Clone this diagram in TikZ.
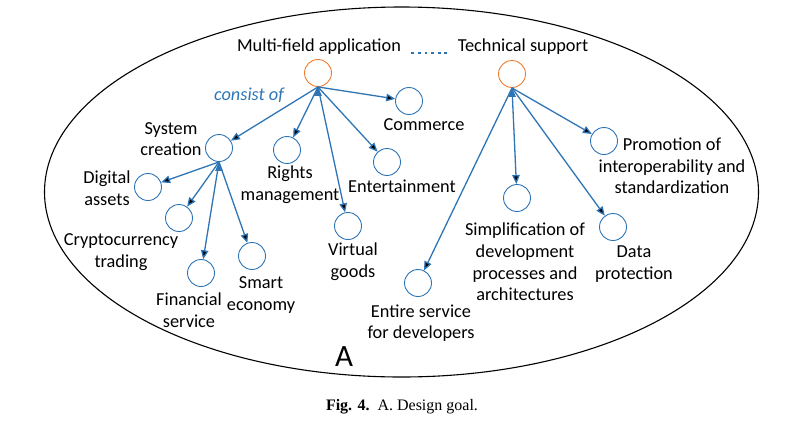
\documentclass[tikz,border=0pt]{standalone}
\usepackage{fontspec}
\setsansfont{Carlito}
\newfontfamily\capfont{Liberation Serif}
\usepackage{tikz}
\usetikzlibrary{arrows.meta}
\definecolor{lineblue}{RGB}{46,117,182}
\definecolor{ringorange}{RGB}{237,125,49}

\begin{document}
\begin{tikzpicture}[x=1pt,y=-1pt,>={Triangle[length=9pt,width=7.5pt]},thick]
      \tikzstyle{line} = [draw=lineblue, line width=1.3pt, ->]
      \tikzstyle{goal} = [circle, draw=lineblue, line width=0.9pt, minimum size=27pt, inner sep=0pt]
      \tikzstyle{root} = [goal, draw=ringorange]
      \tikzstyle{txt} = [font=\sffamily\fontsize{18.3}{21.7}\selectfont, align=center, inner sep=0pt]
      \useasboundingbox (0,0) rectangle (808,426);
      %frame
      \draw[black, line width=1.1pt] (401.5,192) ellipse [x radius=357, y radius=185];
      %circles
      \node[root] (mfa)       at (318,73)  {};
      \node[root] (ts)        at (512,74)  {};
      \node[goal] (commerce)  at (409,101) {};
      \node[goal] (syscr)     at (219,148) {};
      \node[goal] (rights)    at (287,150) {};
      \node[goal] (entert)    at (387,162) {};
      \node[goal] (digital)   at (148,187) {};
      \node[goal] (crypto)    at (179,218) {};
      \node[goal] (virtual)   at (348,226) {};
      \node[goal] (financial) at (201,273) {};
      \node[goal] (smart)     at (252,256) {};
      \node[goal] (entire)    at (418,283) {};
      \node[goal] (simpl)     at (517,198) {};
      \node[goal] (dataprot)  at (613,227) {};
      \node[goal] (promo)     at (604,141) {};
      %texts
      \node[txt] (tmfa)       at (319,47)  {Multi-field application};
      \node[txt] (tts)        at (523,47)  {Technical support};
      \node[txt, text=lineblue, font=\sffamily\itshape\fontsize{18.3}{21.7}\selectfont] (tconsist) at (249,95) {consist of};
      \node[txt] (tcommerce)  at (424,125) {Commerce};
      \node[txt] (tsyscr)     at (171,139) {System\\creation};
      \node[txt] (trights)    at (290,185) {Rights\\management};
      \node[txt] (tentert)    at (402,186) {Entertainment};
      \node[txt] (tdigital)   at (107,188) {Digital\\assets};
      \node[txt] (tcrypto)    at (121,252) {Cryptocurrency\\trading};
      \node[txt] (tfinancial) at (189,310) {Financial\\service};
      \node[txt] (tsmart)     at (261,295) {Smart\\economy};
      \node[txt] (tvirtual)   at (353,262) {Virtual\\goods};
      \node[txt] (tentire)    at (421,323) {Entire service\\for developers};
      \node[txt] (tsimpl)     at (525,262) {Simplification of\\development\\processes and\\architectures};
      \node[txt] (tdata)      at (634,264) {Data\\protection};
      \node[txt] (tpromo)     at (672,166) {Promotion of\\interoperability and\\standardization};
      \node[txt, font=\sffamily\fontsize{31}{31}\selectfont] (tA) at (344,357) {A};
      \node[inner sep=0pt, font=\capfont\fontsize{16}{18}\selectfont] (caption) at (402,407) {\textbf{Fig. 4.}\enspace A. Design goal.};
      %lines
      \draw[draw=lineblue, line width=2.8pt, dash pattern=on 2.8pt off 3.8pt, shorten <=10pt, shorten >=10pt]
         ([yshift=-6pt]tmfa.east) -- ([yshift=-6pt]tts.west);
      \path [line] (mfa.south) edge (syscr) edge (rights) edge (virtual) edge (entert) edge (commerce);
      \path [line] (syscr.south) edge (digital) edge (crypto) edge (financial) edge (smart);
      \path [line] (ts.south) edge (promo) edge (simpl) edge (dataprot) edge (entire);
\end{tikzpicture}
\end{document}
